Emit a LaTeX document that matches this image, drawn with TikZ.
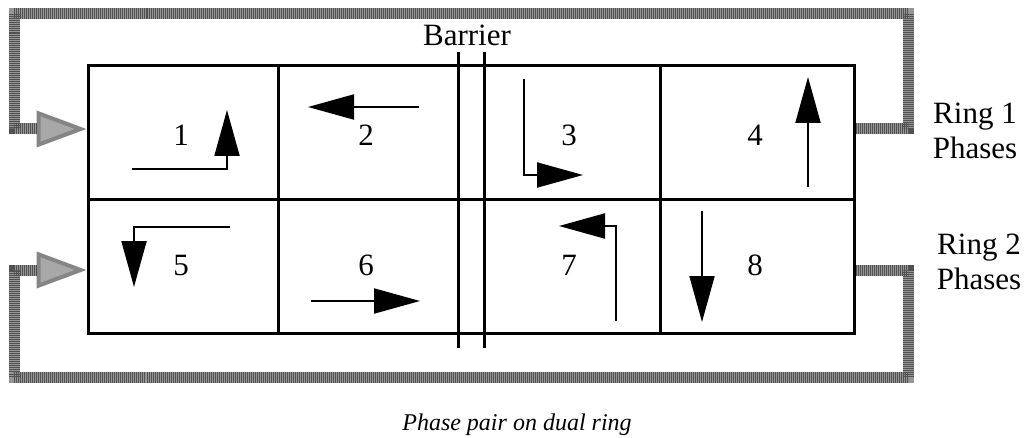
\documentclass[tikz,border=0pt]{standalone}
\usepackage{fontspec}
\setmainfont{Liberation Serif}
\usetikzlibrary{arrows.meta, calc}
\definecolor{bandgray}{HTML}{959595}
\definecolor{tipgray}{HTML}{858585}
\definecolor{tipfill}{HTML}{A8A8A8}

\begin{document}
\begin{tikzpicture}[
    x=0.5pt, y=-0.5pt,
    font=\fontsize{15.5}{17.5}\selectfont,
    frame/.style={line width=1.5pt},
    phasearrow/.style={line width=1pt, -{Triangle[length=23pt, width=12.5pt]}},
    ringband/.style={
        line width=5.5pt, draw=bandgray,
        -{Triangle[length=25pt, width=18pt, line width=2pt, fill=tipfill, color=tipgray]},
        % grain on top of the band
        postaction={draw=black, arrows=-, shorten >=25pt, opacity=0.45,
                    dash pattern=on 0.5pt off 0.5pt}
    },
    phasenum/.style={anchor=base, inner sep=0pt},
    ringlabel/.style={anchor=north, align=center, inner sep=0pt,
                      font=\fontsize{15.5}{17.5}\selectfont},
]
\useasboundingbox (0,0) rectangle (1026,438);

% ============ board with the eight phases ============
\node[draw, frame, minimum width=383pt, minimum height=133.5pt, inner sep=0pt]
    (board) at (471,199.5) {};
\draw[frame] (board.west) -- (board.east);
\foreach \cx in {278,660} {
    \draw[frame] (\cx,0 |- board.north) -- (\cx,0 |- board.south);
}

% Barrier
\node[anchor=base, inner sep=0pt] (barrier) at (467,46) {Barrier};
\foreach \bx in {458,484} {
    \draw[frame] (\bx,52) -- (\bx,348);
}

% Phase numbers
\foreach \px/\py/\n in {181/146/1, 366/146/2, 569/146/3, 755/146/4,
                        181/275/5, 366/275/6, 569/275/7, 755/275/8} {
    \node[phasenum] (ph\n) at (\px,\py) {\n};
}

% Phase movements
\draw[phasearrow] (132,169) -| (227,110);
\draw[phasearrow] (419,107) -- (308,107);
\draw[phasearrow] (524,79) |- (583,175);
\draw[phasearrow] (808,187) -- (808,77);
\draw[phasearrow] (230,227) -| (134,287);
\draw[phasearrow] (311,301) -- (420,301);
\draw[phasearrow] (616,321) |- (559,226);
\draw[phasearrow] (702,211) -- (702,322);

% ============ rings ============
\coordinate (r1ne) at (908,14);
\coordinate (r1nw) at (14,14);
\coordinate (r2se) at (908,377);
\coordinate (r2sw) at (14,377);

\draw[ringband] ([yshift=35.25pt]board.east) -| (r1ne) -- (r1nw)
    |- ([yshift=35.25pt]board.west);
\draw[ringband] ([yshift=-35.25pt]board.east) -| (r2se) -- (r2sw)
    |- ([yshift=-35.25pt]board.west);

\node[ringlabel] (ring1) at (975,103) {Ring 1\\Phases};
\node[ringlabel] (ring2) at (979,234) {Ring 2\\Phases};

% Caption
\node[anchor=base, inner sep=0pt, font=\fontsize{12}{14}\selectfont\itshape]
    (caption) at (517,430) {Phase pair on dual ring};

\end{tikzpicture}
\end{document}
